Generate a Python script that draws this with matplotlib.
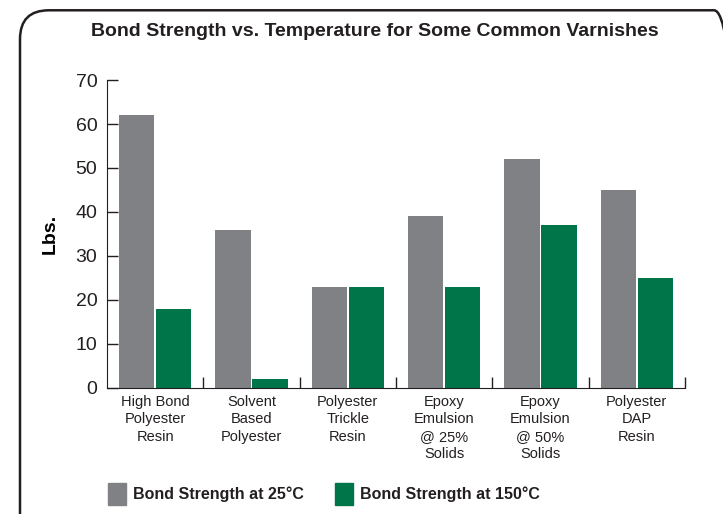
import matplotlib.pyplot as plt
import numpy as np
from matplotlib.patches import FancyBboxPatch, Rectangle

# data
categories = ['High Bond\nPolyester\nResin', 'Solvent\nBased\nPolyester', 'Polyester\nTrickle\nResin',
              'Epoxy\nEmulsion\n@ 25%\nSolids', 'Epoxy\nEmulsion\n@ 50%\nSolids', 'Polyester\nDAP\nResin']
strength_25 = [62, 36, 23, 39, 52, 45]
strength_150 = [18, 2, 23, 23, 37, 25]
y_ticks = [0, 10, 20, 30, 40, 50, 60, 70]

gray = '#808184'
green = '#00754a'
plt.rcParams['font.family'] = ['Liberation Sans', 'DejaVu Sans']

fig = plt.figure(figsize=(7.23, 5.14), dpi=100)

# rounded frame
frame = FancyBboxPatch((20 / 723, -0.1), 1.0, 1.08, boxstyle='round,pad=0,rounding_size=0.04',
                       transform=fig.transFigure, fill=False, edgecolor='#231f20', linewidth=1.8,
                       mutation_aspect=723 / 514, clip_on=False)
fig.patches.append(frame)

ax = fig.add_axes([107 / 723, 1 - 388 / 514, (685 - 107) / 723, (388 - 80) / 514])

x = np.arange(len(categories))
w = 0.365
ax.bar(x - w / 2 - 0.01, strength_25, w, color=gray)
ax.bar(x + w / 2 + 0.01, strength_150, w, color=green)

ax.set_xlim(-0.5, len(categories) - 0.5)
ax.set_ylim(0, 70)
ax.set_yticks(y_ticks)
ax.tick_params(axis='y', direction='in', length=8, width=1, labelsize=14, pad=7, colors='#231f20')
ax.set_xticks(x)
ax.set_xticklabels(categories, fontsize=10.5, linespacing=1.3, color='#231f20')
ax.tick_params(axis='x', length=0, pad=5)
ax.set_xticks(np.arange(len(categories)) + 0.5, minor=True)
ax.tick_params(axis='x', which='minor', direction='in', length=8, width=1, color='#231f20')

for s in ['top', 'right']:
    ax.spines[s].set_visible(False)
ax.spines['left'].set_color('#231f20')
ax.spines['bottom'].set_color('#231f20')

ax.set_ylabel('Lbs.', fontsize=14, fontweight='bold', labelpad=12)

fig.text(375 / 723, 1 - 32 / 514, 'Bond Strength vs. Temperature for Some Common Varnishes',
         ha='center', va='center', fontsize=14, fontweight='bold', color='#231f20')

# legend
for x0, col, label in [(108, gray, 'Bond Strength at 25°C'), (335, green, 'Bond Strength at 150°C')]:
    fig.patches.append(Rectangle((x0 / 723, 1 - 505 / 514), 18 / 723, 22 / 514,
                                 transform=fig.transFigure, color=col))
    fig.text((x0 + 25) / 723, 1 - 494 / 514, label, ha='left', va='center',
             fontsize=11.5, fontweight='bold', color='#231f20')

fig.savefig('out.png', dpi=100)
